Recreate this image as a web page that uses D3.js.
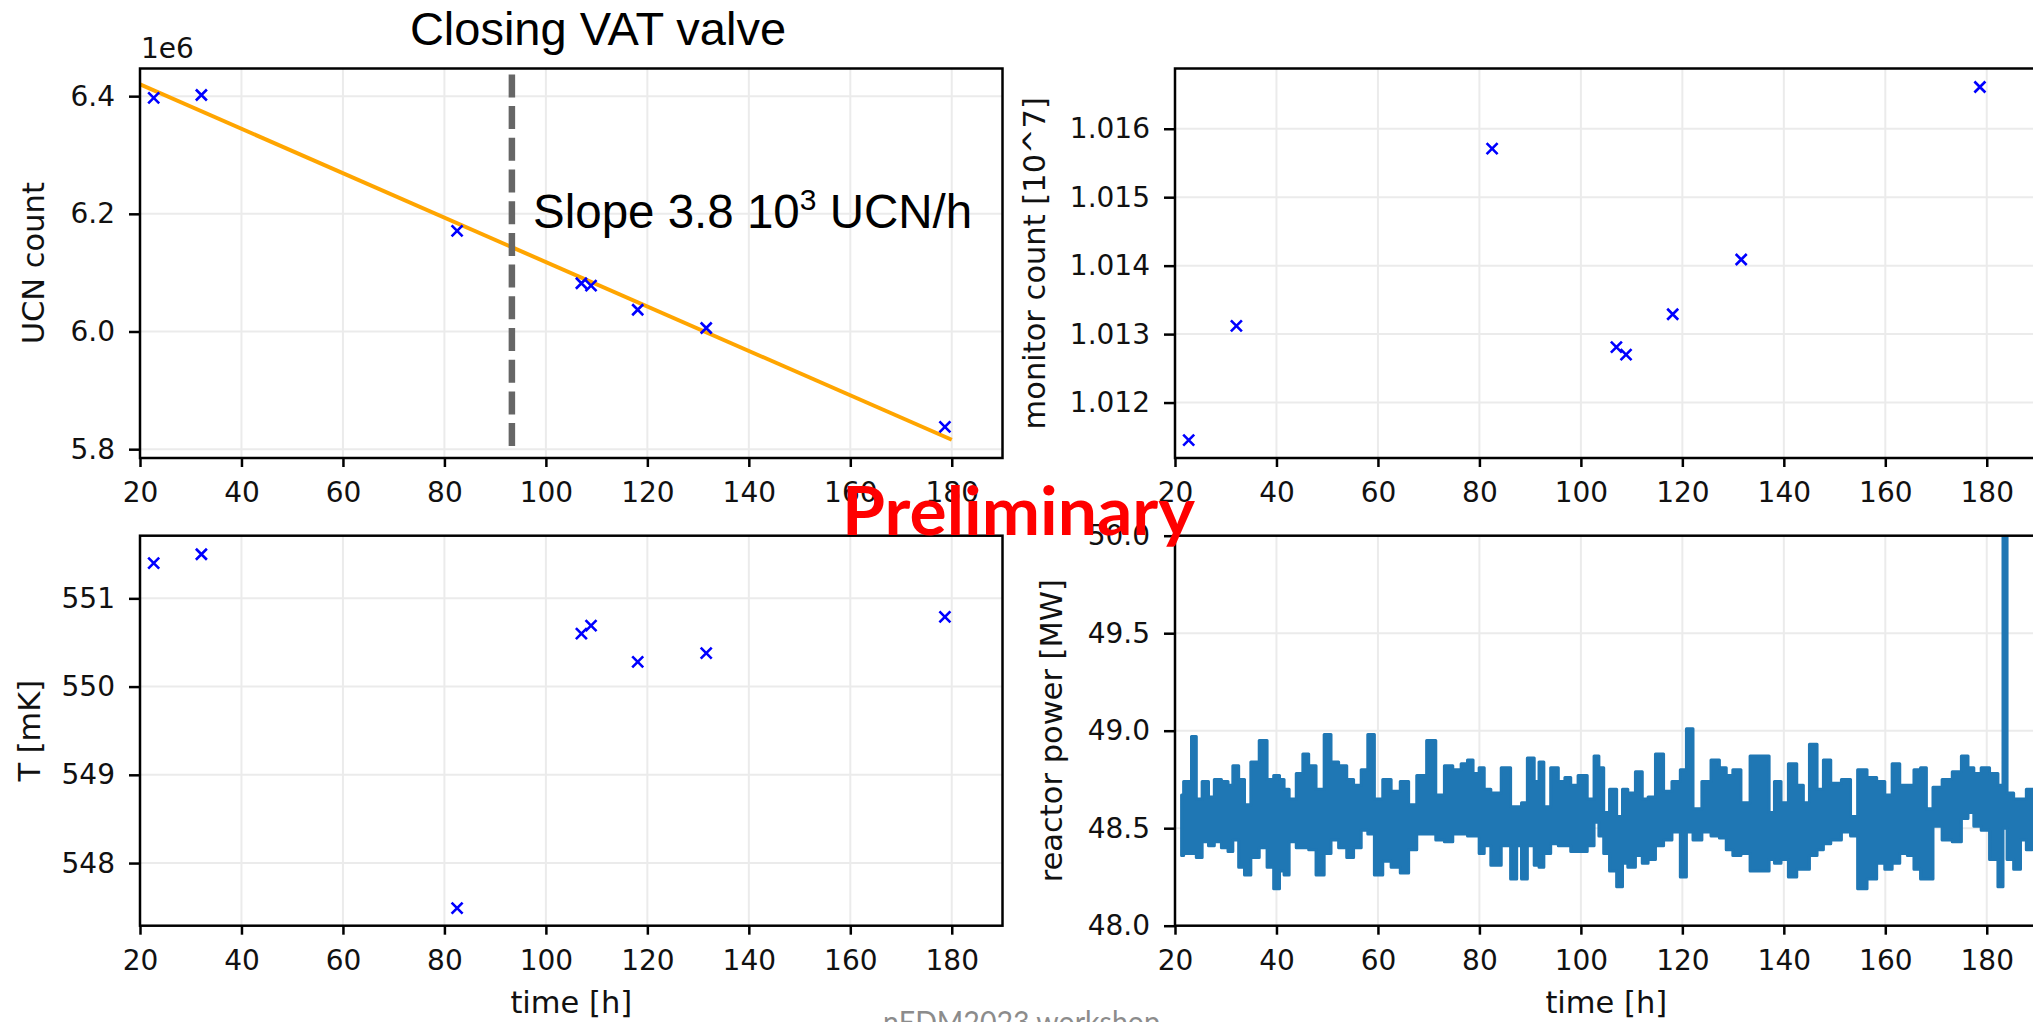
<!DOCTYPE html>
<html>
<head>
<meta charset="utf-8">
<script src="https://cdn.jsdelivr.net/npm/d3@7"></script>
<style>
body{margin:0;background:#fff;overflow:hidden;}
</style>
</head>
<body>
<script>
//execute script when window is loaded
window.onload = function(){

    //SVG dimension variables
    var w = 2033, h = 1022;

    //time of each UCN run [h]
    var runTimes = [22.7, 32.1, 82.5, 107.0, 108.9, 118.1, 131.6, 178.65];
    //UCN counts [1e6]
    var ucnCounts = [6.397, 6.402, 6.171, 6.082, 6.078, 6.037, 6.006, 5.838];
    //monitor counts [10^7]
    var monitorCounts = [1.01145, 1.01312, 1.01571, 1.01281, 1.01270, 1.01329, 1.01409, 1.01661];
    //temperatures [mK]
    var temperatures = [551.40, 551.50, 547.49, 550.60, 550.69, 550.28, 550.38, 550.79];

    //linear fit end points
    var fitTimes = [20, 180];
    var fitCounts = [6.420, 5.816];

    //valve closing marker
    var valveTime = 93.3;
    var valveCounts = [5.800, 6.437];

    //tick labels
    var timeTicks = [20, 40, 60, 80, 100, 120, 140, 160, 180];
    var ucnTicks = [5.8, 6.0, 6.2, 6.4];
    var monitorTicks = [1.012, 1.013, 1.014, 1.015, 1.016];
    var tempTicks = [548, 549, 550, 551];
    var powerTicks = [48.0, 48.5, 49.0, 49.5, 50.0];

    //reactor power: time [h], lower and upper edge of the band [MW]
    var powerTimes = [21.3, 22.1, 22.8, 23.7, 24.7, 26.0, 27.2, 28.3, 30.0, 30.9,
        31.9, 33.2, 34.2, 35.7, 37.5, 38.8, 40.1, 41.1, 41.9, 43.1,
        44.7, 45.7, 47.0, 48.6, 50.2, 51.3, 53.2, 54.5, 55.9, 57.5,
        58.5, 60.1, 61.8, 63.4, 65.4, 66.7, 68.6, 70.6, 72.2, 74.0,
        75.5, 77.3, 78.0, 79.5, 80.4, 81.5, 83.0, 85.6, 86.7, 88.0,
        88.6, 90.3, 91.3, 92.2, 93.2, 94.9, 96.2, 97.5, 98.5, 100.4,
        102.1, 103.1, 104.0, 105.0, 106.3, 107.8, 108.6, 109.9, 111.6, 112.6,
        113.9, 115.5, 117.1, 118.8, 120.4, 121.2, 123.0, 124.7, 126.6, 128.0,
        129.3, 130.6, 132.5, 134.2, 136.7, 137.5, 138.8, 140.1, 141.7, 143.4,
        144.3, 145.8, 147.3, 148.3, 150.2, 152.5, 153.8, 155.3, 157.5, 159.1,
        160.7, 162.0, 163.7, 165.0, 166.3, 167.6, 168.6, 170.2, 172.2, 174.2,
        175.8, 176.8, 178.1, 179.7, 181.4, 183.0, 183.4, 184.6, 186.0, 187.3,
        188.3, 189.6];
    var powerLow = [48.36, 48.37, 48.37, 48.37, 48.35, 48.43, 48.41, 48.43, 48.40, 48.38,
        48.44, 48.30, 48.26, 48.35, 48.40, 48.30, 48.19, 48.28, 48.26, 48.43,
        48.40, 48.40, 48.39, 48.26, 48.37, 48.44, 48.40, 48.35, 48.40, 48.49,
        48.47, 48.26, 48.33, 48.30, 48.27, 48.39, 48.47, 48.47, 48.44, 48.43,
        48.47, 48.47, 48.46, 48.46, 48.37, 48.41, 48.31, 48.41, 48.24, 48.41,
        48.24, 48.41, 48.31, 48.30, 48.37, 48.42, 48.41, 48.41, 48.38, 48.38,
        48.41, 48.53, 48.46, 48.37, 48.28, 48.20, 48.32, 48.30, 48.36, 48.32,
        48.34, 48.41, 48.44, 48.48, 48.25, 48.48, 48.44, 48.48, 48.46, 48.45,
        48.39, 48.36, 48.37, 48.28, 48.28, 48.34, 48.32, 48.34, 48.25, 48.29,
        48.29, 48.36, 48.39, 48.42, 48.44, 48.48, 48.46, 48.19, 48.24, 48.32,
        48.29, 48.32, 48.37, 48.36, 48.29, 48.24, 48.24, 48.51, 48.44, 48.43,
        48.55, 48.58, 48.51, 48.49, 48.34, 48.20, 48.50, 48.34, 48.29, 48.44,
        48.39, 48.40];
    var powerHigh = [48.67, 48.74, 48.74, 48.97, 48.65, 48.74, 48.66, 48.75, 48.74, 48.72,
        48.82, 48.75, 48.62, 48.84, 48.95, 48.75, 48.77, 48.75, 48.70, 48.65,
        48.78, 48.88, 48.82, 48.70, 48.98, 48.84, 48.82, 48.75, 48.72, 48.80,
        48.98, 48.65, 48.75, 48.69, 48.74, 48.62, 48.77, 48.95, 48.67, 48.82,
        48.80, 48.83, 48.85, 48.78, 48.81, 48.70, 48.68, 48.81, 48.61, 48.61,
        48.63, 48.86, 48.74, 48.84, 48.61, 48.81, 48.74, 48.76, 48.72, 48.77,
        48.65, 48.87, 48.81, 48.58, 48.70, 48.56, 48.70, 48.68, 48.79, 48.65,
        48.66, 48.88, 48.69, 48.74, 48.80, 49.01, 48.60, 48.74, 48.85, 48.81,
        48.77, 48.80, 48.63, 48.87, 48.87, 48.58, 48.74, 48.63, 48.83, 48.72,
        48.63, 48.93, 48.70, 48.85, 48.73, 48.75, 48.56, 48.80, 48.76, 48.74,
        48.67, 48.83, 48.72, 48.72, 48.80, 48.81, 48.60, 48.71, 48.75, 48.79,
        48.87, 48.81, 48.78, 48.81, 48.78, 48.72, 50.60, 48.68, 48.65, 48.65,
        48.70, 48.66];

    var tickFont = "'DejaVu Sans', sans-serif";

    //create the SVG container
    var container = d3.select("body")
        .append("svg")
        .attr("width", w)
        .attr("height", h)
        .style("display", "block");

    var defs = container.append("defs");

    //build one matplotlib-like panel
    function makePanel(id, left, top, width, height, yDomain, yTicks, yFormat){
        var x = d3.scaleLinear().domain([20, 190]).range([left, left + width]);
        var y = d3.scaleLinear().domain(yDomain).range([top + height, top]);
        var g = container.append("g").attr("class", id);

        defs.append("clipPath")
            .attr("id", id + "Clip")
            .append("rect")
            .attr("x", left)
            .attr("y", top)
            .attr("width", width)
            .attr("height", height);

        //grid lines
        g.selectAll(".vgrid")
            .data(timeTicks)
            .enter()
            .append("line")
            .attr("x1", function(d){ return x(d); })
            .attr("x2", function(d){ return x(d); })
            .attr("y1", top)
            .attr("y2", top + height)
            .style("stroke", "#ebebeb")
            .style("stroke-width", 2);
        g.selectAll(".hgrid")
            .data(yTicks)
            .enter()
            .append("line")
            .attr("x1", left)
            .attr("x2", left + width)
            .attr("y1", function(d){ return y(d); })
            .attr("y2", function(d){ return y(d); })
            .style("stroke", "#ebebeb")
            .style("stroke-width", 2);

        //plotting area
        var plot = g.append("g").attr("clip-path", "url(#" + id + "Clip)");

        //frame
        g.append("rect")
            .attr("x", left)
            .attr("y", top)
            .attr("width", width)
            .attr("height", height)
            .style("fill", "none")
            .style("stroke", "#000")
            .style("stroke-width", 2.5);

        //axes
        var xAxis = d3.axisBottom(x)
            .tickValues(timeTicks)
            .tickSize(9)
            .tickPadding(15)
            .tickFormat(d3.format("d"));
        var yAxis = d3.axisLeft(y)
            .tickValues(yTicks)
            .tickSize(11)
            .tickPadding(14)
            .tickFormat(d3.format(yFormat));

        var gx = g.append("g")
            .attr("transform", "translate(0," + (top + height) + ")")
            .call(xAxis);
        var gy = g.append("g")
            .attr("transform", "translate(" + left + ",0)")
            .call(yAxis);

        [gx, gy].forEach(function(ax){
            ax.select(".domain").remove();
            ax.selectAll("line").style("stroke", "#000").style("stroke-width", 2.5);
            ax.selectAll("text")
                .style("font-family", tickFont)
                .style("font-size", "28px")
                .style("fill", "#111");
        });

        return {x: x, y: y, plot: plot, g: g, left: left, top: top, width: width, height: height};
    }

    //axis label helpers
    function yLabel(p, baseX, txt){
        container.append("text")
            .attr("transform", "translate(" + baseX + "," + (p.top + p.height / 2) + ") rotate(-90)")
            .attr("text-anchor", "middle")
            .style("font-family", tickFont)
            .style("font-size", "30.5px")
            .style("fill", "#111")
            .text(txt);
    }
    function xLabel(p, baseY, txt){
        container.append("text")
            .attr("x", p.left + p.width / 2)
            .attr("y", baseY)
            .attr("text-anchor", "middle")
            .style("font-family", tickFont)
            .style("font-size", "30.5px")
            .style("fill", "#111")
            .text(txt);
    }

    //blue x markers
    function crosses(p, xs, ys){
        p.plot.selectAll(".cross")
            .data(xs)
            .enter()
            .append("path")
            .attr("class", "cross")
            .attr("transform", function(d, i){
                return "translate(" + p.x(d) + "," + p.y(ys[i]) + ")";
            })
            .attr("d", "M-5.5,-5.5L5.5,5.5M-5.5,5.5L5.5,-5.5")
            .style("stroke", "#0000ff")
            .style("stroke-width", 2.6)
            .style("fill", "none");
    }

    //top left: UCN count
    var pUcn = makePanel("ucn", 140, 68.5, 862.5, 389.5, [5.785, 6.447], ucnTicks, ".1f");
    //top right: monitor count
    var pMon = makePanel("mon", 1175, 68.5, 862.5, 389.5, [1.01119, 1.01688], monitorTicks, ".3f");
    //bottom left: temperature
    var pTemp = makePanel("temp", 140, 535.7, 862.5, 390, [547.29, 551.71], tempTicks, "d");
    //bottom right: reactor power
    var pPow = makePanel("pow", 1175, 535.7, 862.5, 390, [48, 50], powerTicks, ".1f");

    //fit line
    var fitLine = d3.line()
        .x(function(d){ return pUcn.x(d); })
        .y(function(d, i){ return pUcn.y(fitCounts[i]); });
    pUcn.plot.append("path")
        .datum(fitTimes)
        .attr("d", fitLine)
        .style("fill", "none")
        .style("stroke", "#ffa500")
        .style("stroke-width", 4);

    //valve closing line
    pUcn.plot.append("line")
        .attr("x1", pUcn.x(valveTime))
        .attr("x2", pUcn.x(valveTime))
        .attr("y1", pUcn.y(valveCounts[1]))
        .attr("y2", pUcn.y(valveCounts[0]))
        .style("stroke", "#666666")
        .style("stroke-width", 6.5)
        .style("stroke-dasharray", "23,8.7");

    crosses(pUcn, runTimes, ucnCounts);
    crosses(pMon, runTimes, monitorCounts);
    crosses(pTemp, runTimes, temperatures);

    //reactor power band
    var powerArea = d3.area()
        .curve(d3.curveStep)
        .x(function(d){ return pPow.x(d); })
        .y0(function(d, i){ return pPow.y(powerLow[i]); })
        .y1(function(d, i){ return pPow.y(powerHigh[i]); });
    pPow.plot.append("path")
        .datum(powerTimes)
        .attr("d", powerArea)
        .style("fill", "#1f77b4")
        .style("stroke", "#1f77b4")
        .style("stroke-width", 3)
        .style("stroke-linejoin", "round");

    //1e6 offset label
    container.append("text")
        .attr("x", 141)
        .attr("y", 58)
        .style("font-family", tickFont)
        .style("font-size", "28px")
        .style("fill", "#111")
        .text("1e6");

    //axis labels
    yLabel(pUcn, 44, "UCN count");
    yLabel(pMon, 1045, "monitor count [10^7]");
    yLabel(pTemp, 40, "T [mK]");
    yLabel(pPow, 1062, "reactor power [MW]");
    xLabel(pTemp, 1013, "time [h]");
    xLabel(pPow, 1013, "time [h]");

    //annotations
    container.append("text")
        .attr("x", 598)
        .attr("y", 45)
        .attr("text-anchor", "middle")
        .style("font-family", "'Liberation Sans', Arial, sans-serif")
        .style("font-size", "47px")
        .style("fill", "#000")
        .text("Closing VAT valve");

    var slope = container.append("text")
        .attr("x", 533)
        .attr("y", 228)
        .style("font-family", "'Liberation Sans', Arial, sans-serif")
        .style("font-size", "47.5px")
        .style("fill", "#000");
    slope.append("tspan").text("Slope 3.8 10");
    slope.append("tspan")
        .attr("dy", -18)
        .style("font-size", "30px")
        .text("3");
    slope.append("tspan")
        .attr("dy", 18)
        .text(" UCN/h");

    container.append("text")
        .attr("x", 842)
        .attr("y", 535)
        .attr("textLength", 353)
        .attr("lengthAdjust", "spacingAndGlyphs")
        .style("font-family", "Lato, 'Open Sans', sans-serif")
        .style("font-weight", "bold")
        .style("font-size", "66px")
        .style("fill", "#ff0000")
        .text("Preliminary");

    container.append("text")
        .attr("x", 883)
        .attr("y", 1033)
        .attr("textLength", 277)
        .attr("lengthAdjust", "spacingAndGlyphs")
        .style("font-family", "Lato, 'Open Sans', sans-serif")
        .style("font-size", "30px")
        .style("fill", "#8c8c8c")
        .text("nEDM2023 workshop");
};
</script>
</body>
</html>
